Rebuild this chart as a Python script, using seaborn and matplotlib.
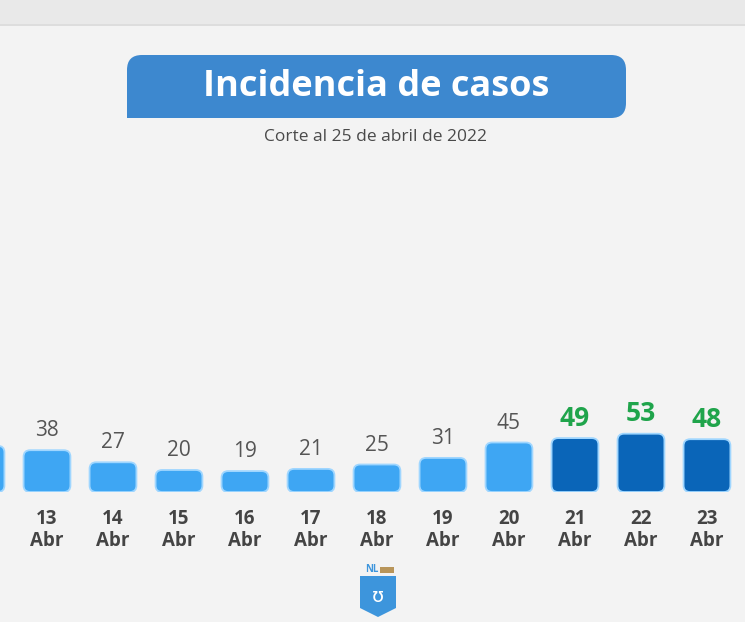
import pandas as pd
import seaborn as sns
import matplotlib.pyplot as plt
from matplotlib.patches import FancyBboxPatch, Polygon, Rectangle

sns.set_theme(style="white")
plt.rcParams['font.family'] = ['Open Sans', 'DejaVu Sans']

# datos
dias = ['12', '13', '14', '15', '16', '17', '18', '19', '20', '21', '22', '23']
casos = [42, 38, 27, 20, 19, 21, 25, 31, 45, 49, 53, 48]
grupo = ['antes'] * 9 + ['reciente'] * 3
mes = 'Abr'

titulo = 'Incidencia de casos'
subtitulo = 'Corte al 25 de abril de 2022'

df = pd.DataFrame({'dia': [d + '\n' + mes for d in dias], 'casos': casos, 'grupo': grupo})

W, H = 745, 622
fig = plt.figure(figsize=(W / 100, H / 100), dpi=100, facecolor='#f3f3f3')

# franja superior gris
fig.patches.append(Rectangle((0, 1 - 24 / H), 1, 24 / H, transform=fig.transFigure,
                             facecolor='#e9e9e9', edgecolor='none', zorder=0))
fig.patches.append(Rectangle((0, 1 - 26 / H), 1, 2 / H, transform=fig.transFigure,
                             facecolor='#dddddd', edgecolor='none', zorder=0))

ax = fig.add_axes([0, 130 / H, 1, 150 / H])
ax.set_facecolor('none')

paleta = {'antes': '#3ea6f3', 'reciente': '#0a65b8'}
sns.barplot(data=df, x='dia', y='casos', hue='grupo', palette=paleta,
            dodge=False, legend=False, width=0.71, saturation=1, ax=ax)

ax.set_xlim(0.288, 11.576)
ax.set_ylim(0, 150 / 1.1)

# barras con esquinas redondeadas
px_x = W / (ax.get_xlim()[1] - ax.get_xlim()[0])
px_y = 150 / ax.get_ylim()[1]
aspect = px_x / px_y
for p in list(ax.patches):
    x, y = p.get_x(), p.get_y()
    w, h = p.get_width(), p.get_height()
    fc = p.get_facecolor()
    p.remove()
    ax.add_patch(FancyBboxPatch((x, y), w, h,
                                boxstyle="round,pad=0,rounding_size=0.1",
                                mutation_aspect=aspect, facecolor=fc,
                                edgecolor='#9fd6ff', linewidth=1.3, zorder=2))

# etiquetas de valor
for i, (v, g) in enumerate(zip(casos, grupo)):
    if g == 'reciente':
        ax.annotate(str(v), (i, v), xytext=(0, 9), textcoords='offset points',
                    ha='center', va='baseline', fontsize=19, fontweight='bold',
                    color='#1fa44b')
    else:
        ax.annotate(str(v), (i, v), xytext=(0, 10), textcoords='offset points',
                    ha='center', va='baseline', fontsize=15, color='#555555')

sns.despine(ax=ax, left=True, bottom=True)
ax.set_yticks([])
ax.set_xlabel('')
ax.set_ylabel('')
ax.tick_params(axis='x', length=0, pad=12)
for t in ax.get_xticklabels():
    t.set_fontsize(13.5)
    t.set_fontweight('bold')
    t.set_color('#444444')
    t.set_linespacing(1.15)

# banner del titulo
fig.patches.append(FancyBboxPatch((127 / W, 1 - 118 / H), 499 / W, 63 / H,
                                  boxstyle="round,pad=0,rounding_size=0.02",
                                  mutation_aspect=W / H, transform=fig.transFigure,
                                  facecolor='#3d88cf', edgecolor='none'))
# esquina inferior izquierda recta
fig.patches.append(Rectangle((127 / W, 1 - 118 / H), 30 / W, 30 / H,
                             transform=fig.transFigure, facecolor='#3d88cf',
                             edgecolor='none'))
fig.text(376 / W, 1 - 87 / H, titulo, ha='center', va='center', fontsize=26,
         fontweight='bold', color='white')
fig.text(376 / W, 1 - 137 / H, subtitulo, ha='center', va='center', fontsize=12.5,
         color='#4a4a4a')

# logo
fig.patches.append(Polygon([(360 / W, 1 - 576 / H), (396 / W, 1 - 576 / H),
                            (396 / W, 1 - 608 / H), (378 / W, 1 - 617 / H),
                            (360 / W, 1 - 608 / H)], closed=True,
                           transform=fig.transFigure, facecolor='#3d95dc',
                           edgecolor='none'))
fig.text(372 / W, 1 - 569 / H, 'NL', ha='center', va='center', fontsize=7,
         fontweight='bold', color='#3d95dc')
fig.patches.append(Rectangle((380 / W, 1 - 573 / H), 14 / W, 6 / H,
                             transform=fig.transFigure, facecolor='#b8955a',
                             edgecolor='none'))
fig.text(378 / W, 1 - 596 / H, 'ʊ', ha='center', va='center', fontsize=14,
         color='white', family=['DejaVu Sans'])

fig.savefig('out.png', dpi=100, facecolor=fig.get_facecolor())
